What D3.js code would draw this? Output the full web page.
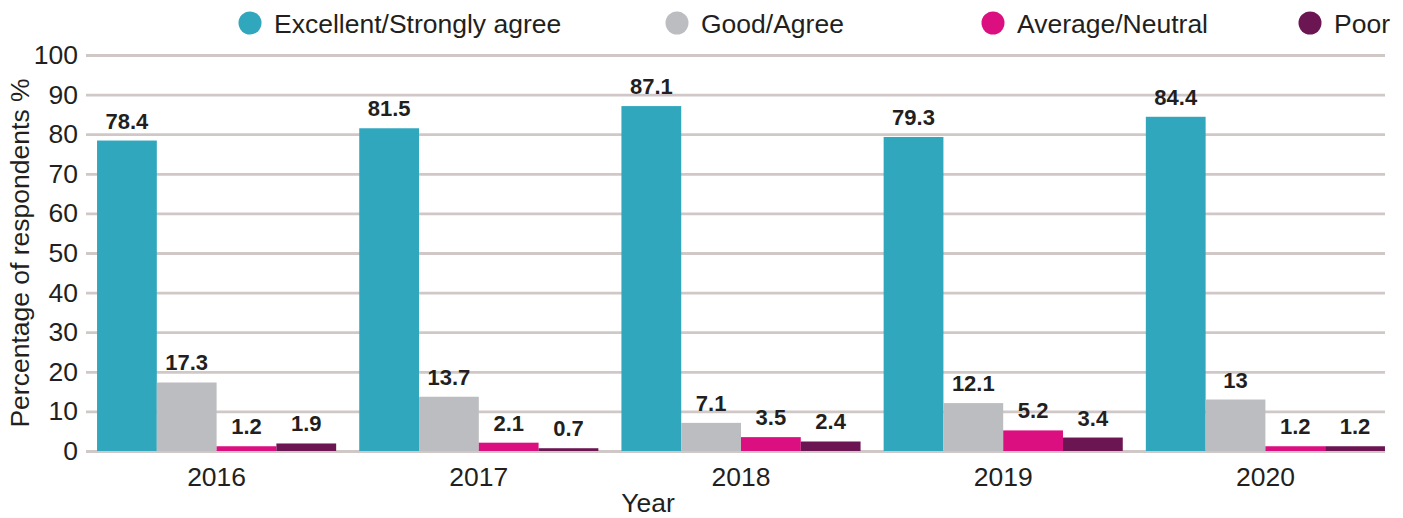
<!DOCTYPE html>
<html>
<head>
<meta charset="utf-8">
<script src="https://cdn.jsdelivr.net/npm/d3@7"></script>
<style>
  body { margin: 0; background: #fff; }
  text { font-family: "Liberation Sans", Arial, sans-serif; fill: #231f20; }
</style>
</head>
<body>
<div class="container"></div>
<script>
// Data
const years = ["2016", "2017", "2018", "2019", "2020"]
const seriesNames = ["Excellent/Strongly agree", "Good/Agree", "Average/Neutral", "Poor"]
const seriesColors = ["#31a7be", "#bcbdc0", "#dc0f80", "#6b1552"]
const excellent = [78.4, 81.5, 87.1, 79.3, 84.4]
const good = [17.3, 13.7, 7.1, 12.1, 13]
const average = [1.2, 2.1, 3.5, 5.2, 1.2]
const poor = [1.9, 0.7, 2.4, 3.4, 1.2]
const yTicks = [0, 10, 20, 30, 40, 50, 60, 70, 80, 90, 100]

const seriesValues = [excellent, good, average, poor]
const data = years.map((y, i) => ({
    year: y,
    values: seriesNames.map((s, j) => ({ key: s, value: seriesValues[j][i], color: seriesColors[j] }))
}))

const width = 1403
const height = 518
const fontSize = 26.5

const svg = d3.select(".container")
    .append("svg")
    .attr("width", width)
    .attr("height", height)

// Scales
const x0 = d3.scaleBand()
    .domain(years)
    .range([85.5, 1396.5])
    .paddingInner(0.088)
    .paddingOuter(0.044)

const x1 = d3.scaleBand()
    .domain(seriesNames)
    .range([0, x0.bandwidth()])

const yScale = d3.scaleLinear()
    .domain([0, 100])
    .range([451, 55])

// Grid lines + y axis
const yAxis = d3.axisLeft(yScale)
    .tickValues(yTicks)
    .tickSize(0)
    .tickPadding(8)

const y = svg.append("g")
    .attr("transform", "translate(86,0)")
    .call(yAxis)

y.select(".domain").remove()
y.selectAll(".tick text")
    .attr("font-size", fontSize)
    .attr("fill", "#231f20")
    .attr("x", -8)
y.selectAll(".tick line")
    .attr("x2", 1299)
    .attr("stroke", "#cfc8c6")
    .attr("stroke-width", 2.8)

// Bars
const groups = svg.selectAll(".group")
    .data(data)
    .enter()
    .append("g")
    .attr("transform", d => `translate(${x0(d.year)},0)`)

groups.selectAll("rect")
    .data(d => d.values)
    .enter()
    .append("rect")
    .attr("x", d => x1(d.key))
    .attr("y", d => yScale(d.value))
    .attr("width", x1.bandwidth())
    .attr("height", d => yScale(0) - yScale(d.value))
    .attr("fill", d => d.color)

groups.selectAll(".label")
    .data(d => d.values)
    .enter()
    .append("text")
    .text(d => d.value)
    .attr("x", d => x1(d.key) + x1.bandwidth() / 2)
    .attr("y", d => yScale(d.value) - 12)
    .attr("text-anchor", "middle")
    .attr("font-size", 22)
    .attr("font-weight", "bold")

// x axis
const xAxis = d3.axisBottom(x0).tickSize(0).tickPadding(16)
const x = svg.append("g")
    .attr("transform", "translate(0,451)")
    .call(xAxis)
x.select(".domain").remove()
x.selectAll(".tick text")
    .attr("font-size", fontSize)
    .attr("fill", "#231f20")

// Axis titles
svg.append("text")
    .text("Year")
    .attr("x", 648)
    .attr("y", 512)
    .attr("text-anchor", "middle")
    .attr("font-size", fontSize)

svg.append("text")
    .text("Percentage of respondents %")
    .attr("transform", "translate(29,253) rotate(-90)")
    .attr("text-anchor", "middle")
    .attr("font-size", fontSize)

// Legend
const legendX = [250, 677, 993, 1310]
const legend = svg.selectAll(".legend")
    .data(seriesNames)
    .enter()
    .append("g")
    .attr("transform", (d, i) => `translate(${legendX[i]},23)`)

legend.append("circle")
    .attr("r", 11.5)
    .attr("fill", (d, i) => seriesColors[i])

legend.append("text")
    .text(d => d)
    .attr("x", 24)
    .attr("dy", "0.36em")
    .attr("font-size", fontSize)
</script>
</body>
</html>
